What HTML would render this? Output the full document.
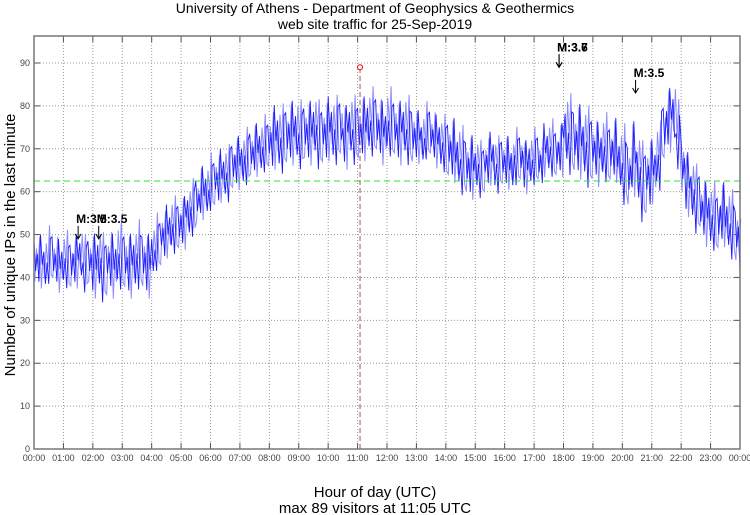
<!DOCTYPE html>
<html><head><meta charset="utf-8"><style>
body{margin:0;background:#fff;}
svg{display:block;font-family:"Liberation Sans",sans-serif;}
</style></head><body>
<svg id="chart" width="750" height="515" viewBox="0 0 750 515">
<text x="375" y="13" text-anchor="middle" font-size="14">University of Athens - Department of Geophysics &amp; Geothermics</text>
<text x="375" y="29" text-anchor="middle" font-size="14">web site traffic for 25-Sep-2019</text>
<text x="375" y="497" text-anchor="middle" font-size="15">Hour of day (UTC)</text>
<text x="375" y="513" text-anchor="middle" font-size="15">max 89 visitors at 11:05 UTC</text>
<text transform="translate(15,245) rotate(-90)" text-anchor="middle" font-size="15">Number of unique IPs in the last minute</text>
<g id="grid"></g>
<g id="series"></g>
<g id="marks"></g>
<rect x="34" y="36" width="706" height="413" fill="none" stroke="#777" stroke-width="1.5"/>
</svg>
<script>
const hourLabels=["00:00","01:00","02:00","03:00","04:00","05:00","06:00","07:00","08:00","09:00","10:00","11:00","12:00","13:00","14:00","15:00","16:00","17:00","18:00","19:00","20:00","21:00","22:00","23:00","00:00"];
const yTicks=[0,10,20,30,40,50,60,70,80,90];
// mean visitors per 10 minutes
const means=[44,44,43,45,44,43, 44,43,44,45,43,44, 43,44,42,44,43,45, 44,43,44,45,44,43,
46,48,50,51,52,52, 53,55,56,58,60,60, 62,63,64,64,66,67, 67,68,69,70,70,71,
72,73,72,73,74,74, 73,74,74,75,73,74, 75,74,75,73,75,74, 74,75,76,76,75,74,
76,75,74,75,74,73, 73,72,74,73,72,71, 70,70,68,67,66,66, 66,65,67,68,66,67,
67,66,68,68,66,67, 68,67,70,70,69,70, 74,73,72,72,71,70, 70,69,70,69,70,67,
66,64,68,65,62,64, 65,68,74,77,78,73, 66,62,60,58,56,55, 54,53,55,53,52,50, 47];
// noise spread per hour
const spread=[5,5,6,6,5,5,5,5,6,6,6,6,6,5,6,5,5,5,7,6,7,6,6,6];
const jitter=[0.9,-0.5,0.3,-1.0,1.2,-0.2,0.6,-0.9,0.1,-1.3,0.8];
const avgLine=62.5;
const maxPoint={hour:11+5/60,value:89};
const quakes=[{hour:1.5,label:"M:3.5",top:49},{hour:2.2,label:"M:3.5",top:49},{hour:17.85,label:"M:3.7",top:89},{hour:17.85,label:"M:3.6",top:89},{hour:20.45,label:"M:3.5",top:83}];

const X0=34,X1=740,Y0=449,Y1=36,YMAX=96.3;
const xs=h=>X0+(X1-X0)*h/24;
const ys=v=>Y0-(Y0-Y1)*v/YMAX;
const NS="http://www.w3.org/2000/svg";
function mk(tag,attrs,parent){const e=document.createElementNS(NS,tag);for(const k in attrs)e.setAttribute(k,attrs[k]);parent.appendChild(e);return e;}
const grid=document.getElementById('grid'),ser=document.getElementById('series'),marks=document.getElementById('marks');
hourLabels.forEach((l,i)=>{const x=xs(i);
 if(i>0&&i<24){const g=mk('line',{x1:x,x2:x,y1:Y1,y2:Y0,stroke:'#999','stroke-dasharray':'1,2'},grid);
 
 }
 mk('line',{x1:x,x2:x,y1:Y0,y2:Y0-6,stroke:'#555'},grid);
 mk('line',{x1:x,x2:x,y1:Y1,y2:Y1+6,stroke:'#555'},grid);
 const t=mk('text',{x:x,y:Y0+12,'text-anchor':'middle','font-size':9,fill:'#444'},grid);t.textContent=l;
 
 });
yTicks.forEach(v=>{const y=ys(v);
 if(v>0){const g=mk('line',{x1:X0,x2:X1,y1:y,y2:y,stroke:'#999','stroke-dasharray':'1,2'},grid);
 
 }
 mk('line',{x1:X0,x2:X0+6,y1:y,y2:y,stroke:'#555'},grid);
 mk('line',{x1:X1-6,x2:X1,y1:y,y2:y,stroke:'#555'},grid);
 const t=mk('text',{x:X0-4,y:y+3,'text-anchor':'end','font-size':9,fill:'#444'},grid);t.textContent=v;
 
 });
// series
let pts=[],pts2=[];
means.forEach((m,i)=>{const h=i/6;const s=spread[Math.min(23,Math.floor(h))];
 for(let k=0;k<3;k++){const hh=h+k/18;if(hh>24)break;const j=jitter[(i*3+k)%11];
  pts.push(xs(hh).toFixed(1)+','+ys(m+s*j).toFixed(1));
  pts2.push(xs(hh+1/36).toFixed(1)+','+ys(m-s*j*1.1).toFixed(1));}});
const l2=mk('polyline',{points:pts2.join(' '),fill:'none',stroke:'#8c8cff','stroke-width':1},ser);


const l1=mk('polyline',{points:pts.join(' '),fill:'none',stroke:'#1a1aff','stroke-width':0.9},ser);


const avg=mk('line',{x1:X0,x2:X1,y1:ys(avgLine),y2:ys(avgLine),stroke:'#33dd33','stroke-dasharray':'6,4'},marks);


const mx=xs(maxPoint.hour),my=ys(maxPoint.value);
const vl=mk('line',{x1:mx,x2:mx,y1:Y0,y2:my+3,stroke:'#a05050','stroke-dasharray':'5,3'},marks);


const mc=mk('circle',{cx:mx,cy:my,r:2.5,fill:'none',stroke:'#e00','stroke-width':1},marks);


quakes.forEach(q=>{const x=xs(q.hour),y=ys(q.top);
 const t=mk('text',{x:x-2,y:y-16,'font-size':12,'font-weight':'bold'},marks);t.textContent=q.label;
 
 
 const a=mk('path',{d:`M${x},${y-13}V${y}M${x-3},${y-5}L${x},${y}L${x+3},${y-5}`,fill:'none',stroke:'#000'},marks);
 
 });
</script>
</body></html>
